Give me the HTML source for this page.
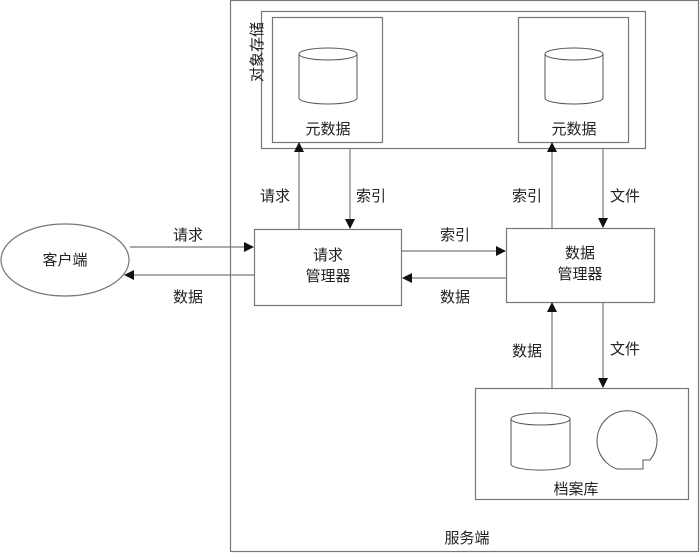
<!DOCTYPE html>
<html><head><meta charset="utf-8"><style>
html,body{margin:0;padding:0;background:#fff;}
svg text{font-family:"Liberation Sans","Noto Sans CJK SC",sans-serif;font-size:15px;fill:#222;}
</style></head><body>
<svg width="700" height="553" viewBox="0 0 700 553" xmlns="http://www.w3.org/2000/svg">
<defs>
<marker id="a" markerWidth="10" markerHeight="10" refX="9" refY="5" orient="auto" markerUnits="userSpaceOnUse"><path d="M0,0 L10,5 L0,10 z" fill="#111"/></marker>
</defs>
<g fill="none" stroke="#777" stroke-width="1.2">
<rect x="230.5" y="0.5" width="468" height="551"/>
<rect x="261.5" y="11.5" width="384" height="137"/>
<rect x="272.5" y="17.5" width="110" height="125"/>
<rect x="518.5" y="17.5" width="110" height="125"/>
<ellipse cx="65" cy="260" rx="64" ry="36"/>
<rect x="254.5" y="229.5" width="147" height="76"/>
<rect x="506.5" y="228.5" width="148" height="74"/>
<rect x="475.5" y="388.5" width="213" height="111"/>
</g>
<g fill="none" stroke="#555" stroke-width="1">
<path d="M299,54 v44 a29,6 0 0 0 58,0 v-44"/><ellipse cx="328" cy="54" rx="29" ry="6"/>
<path d="M545,54 v44 a29,6 0 0 0 58,0 v-44"/><ellipse cx="574" cy="54" rx="29" ry="6"/>
<path d="M511,419 v45 a29,6 0 0 0 59,0 v-45"/><ellipse cx="540.5" cy="419" rx="29.5" ry="6"/>
<path d="M643,469 L617,469 A30,30 0 1 1 650,460 L643,460 Z"/>
</g>
<g stroke="#777" stroke-width="1.2" fill="none" marker-end="url(#a)">
<line x1="130" y1="247" x2="253" y2="247"/>
<line x1="254" y1="275" x2="125" y2="275"/>
<line x1="402" y1="251" x2="505" y2="251"/>
<line x1="506" y1="278" x2="403" y2="278"/>
<line x1="299" y1="229" x2="299" y2="143"/>
<line x1="350" y1="148" x2="350" y2="228"/>
<line x1="552" y1="228" x2="552" y2="143"/>
<line x1="603" y1="148" x2="603" y2="227"/>
<line x1="552" y1="388" x2="552" y2="303"/>
<line x1="603" y1="303" x2="603" y2="387"/>
</g>
<text x="258" y="52" transform="rotate(-90 258 52)" text-anchor="middle" dominant-baseline="middle">对象存储</text>
<text x="328" y="134" text-anchor="middle">元数据</text>
<text x="574" y="134" text-anchor="middle">元数据</text>
<text x="65" y="265" text-anchor="middle">客户端</text>
<text x="188" y="240" text-anchor="middle">请求</text>
<text x="188" y="302" text-anchor="middle">数据</text>
<text x="455" y="240" text-anchor="middle">索引</text>
<text x="455" y="302" text-anchor="middle">数据</text>
<text x="328" y="260" text-anchor="middle">请求</text>
<text x="328" y="281" text-anchor="middle">管理器</text>
<text x="580" y="258" text-anchor="middle">数据</text>
<text x="580" y="279" text-anchor="middle">管理器</text>
<text x="275" y="201" text-anchor="middle">请求</text>
<text x="371" y="201" text-anchor="middle">索引</text>
<text x="527" y="201" text-anchor="middle">索引</text>
<text x="625" y="201" text-anchor="middle">文件</text>
<text x="527" y="356" text-anchor="middle">数据</text>
<text x="625" y="354" text-anchor="middle">文件</text>
<text x="576" y="494" text-anchor="middle">档案库</text>
<text x="467" y="543" text-anchor="middle">服务端</text>
</svg>
</body></html>
